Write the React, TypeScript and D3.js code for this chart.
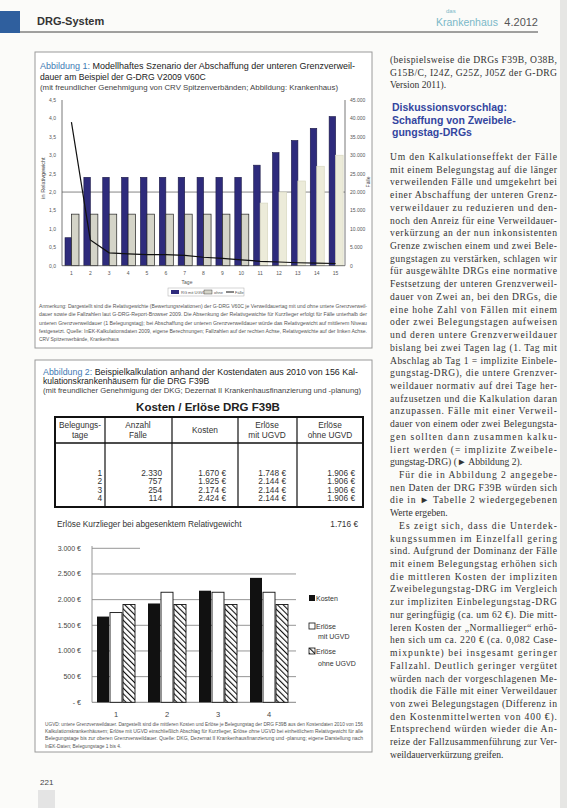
import React from "react";
import * as d3 from "d3";

// ---------- DATA ----------
const days = ["1","2","3","4","5","6","7","8","9","10","11","12","13","14","15"];
const rwMitUGVD = [0.76,2.4,2.4,2.4,2.4,2.4,2.4,2.4,2.4,2.4,2.73,3.07,3.4,3.73,4.05];
const rwOhneUGVD = [1.4,1.4,1.4,1.4,1.4,1.4,1.4,1.4,1.4,1.4,1.7,2.0,2.3,2.7,3.0];
const cases = [39000,7000,3500,3200,3000,3000,2800,2300,2000,1600,1200,1000,800,700,600];
const leftTicks = [0,0.5,1,1.5,2,2.5,3,3.5,4,4.5];
const rightTicks = [0,5000,10000,15000,20000,25000,30000,35000,40000,45000];

const tage = ["1","2","3","4"];
const faelle = ["2.330","757","254","114"];
const kosten = [1670,1925,2174,2424];
const erloeseMit = [1748,2144,2144,2144];
const erloeseOhne = [1906,1906,1906,1906];
const yTicks2 = [0,500,1000,1500,2000,2500,3000];

const colText = [
  {t:"Um den Kalkulationseffekt der Fälle", j:true},
  {t:"mit einem Belegungstag auf die länger", j:true},
  {t:"verweilenden Fälle und umgekehrt bei", j:true},
  {t:"einer Abschaffung der unteren Grenz-", j:true},
  {t:"verweildauer zu reduzieren und den-", j:true},
  {t:"noch den Anreiz für eine Verweildauer-", j:true},
  {t:"verkürzung an der nun inkonsistenten", j:true},
  {t:"Grenze zwischen einem und zwei Bele-", j:true},
  {t:"gungstagen zu verstärken, schlagen wir", j:true},
  {t:"für ausgewählte DRGs eine normative", j:true},
  {t:"Festsetzung der unteren Grenzverweil-", j:true},
  {t:"dauer von Zwei an, bei den DRGs, die", j:true},
  {t:"eine hohe Zahl von Fällen mit einem", j:true},
  {t:"oder zwei Belegungstagen aufweisen", j:true},
  {t:"und deren untere Grenzverweildauer", j:true},
  {t:"bislang bei zwei Tagen lag (1. Tag mit", j:true},
  {t:"Abschlag ab Tag 1 = implizite Einbele-", j:true},
  {t:"gungstag-DRG), die untere Grenzver-", j:true},
  {t:"weildauer normativ auf drei Tage her-", j:true},
  {t:"aufzusetzen und die Kalkulation daran", j:true},
  {t:"anzupassen. Fälle mit einer Verweil-", j:true},
  {t:"dauer von einem oder zwei Belegungsta-", j:true},
  {t:"gen sollten dann zusammen kalku-", j:true},
  {t:"liert werden (= implizite Zweibele-", j:true},
  {t:"gungstag-DRG) (► Abbildung 2).", j:false},
  {t:"Für die in Abbildung 2 angegebe-", j:true, i:true},
  {t:"nen Daten der DRG F39B würden sich", j:true},
  {t:"die in ► Tabelle 2 wiedergegebenen", j:true},
  {t:"Werte ergeben.", j:false},
  {t:"Es zeigt sich, dass die Unterdek-", j:true, i:true},
  {t:"kungssummen im Einzelfall gering", j:true},
  {t:"sind. Aufgrund der Dominanz der Fälle", j:true},
  {t:"mit einem Belegungstag erhöhen sich", j:true},
  {t:"die mittleren Kosten der impliziten", j:true},
  {t:"Zweibelegungstag-DRG im Vergleich", j:true},
  {t:"zur impliziten Einbelegungstag-DRG", j:true},
  {t:"nur geringfügig (ca. um 62 €). Die mitt-", j:true},
  {t:"leren Kosten der „Normallieger“ erhö-", j:true},
  {t:"hen sich um ca. 220 € (ca. 0,082 Case-", j:true},
  {t:"mixpunkte) bei insgesamt geringer", j:true},
  {t:"Fallzahl. Deutlich geringer vergütet", j:true},
  {t:"würden nach der vorgeschlagenen Me-", j:true},
  {t:"thodik die Fälle mit einer Verweildauer", j:true},
  {t:"von zwei Belegungstagen (Differenz in", j:true},
  {t:"den Kostenmittelwerten von 400 €).", j:true},
  {t:"Entsprechend würden wieder die An-", j:true},
  {t:"reize der Fallzusammenführung zur Ver-", j:true},
  {t:"weildauerverkürzung greifen.", j:false},
];
const topText = [
  "(beispielsweise die DRGs F39B, O38B,",
  "G15B/C, I24Z, G25Z, J05Z der G-DRG",
  "Version 2011).",
];
const note1 = [
  "Anmerkung: Dargestellt sind die Relativgewichte (Bewertungsrelationen) der G-DRG V60C je Verweildauertag mit und ohne untere Grenzverweil-",
  "dauer sowie die Fallzahlen laut G-DRG-Report-Browser 2009. Die Absenkung der Relativgewichte für Kurzlieger erfolgt für Fälle unterhalb der",
  "unteren Grenzverweildauer (1 Belegungstag); bei Abschaffung der unteren Grenzverweildauer würde das Relativgewicht auf mittlerem Niveau",
  "festgesetzt. Quelle: InEK-Kalkulationsdaten 2009, eigene Berechnungen; Fallzahlen auf der rechten Achse, Relativgewichte auf der linken Achse.",
  "CRV Spitzenverbände, Krankenhaus",
];
const note2 = [
  "UGVD: untere Grenzverweildauer. Dargestellt sind die mittleren Kosten und Erlöse je Belegungstag der DRG F39B aus den Kostendaten 2010 von 156",
  "Kalkulationskrankenhäusern; Erlöse mit UGVD einschließlich Abschlag für Kurzlieger, Erlöse ohne UGVD bei einheitlichem Relativgewicht für alle",
  "Belegungstage bis zur oberen Grenzverweildauer. Quelle: DKG, Dezernat II Krankenhausfinanzierung und -planung; eigene Darstellung nach",
  "InEK-Daten; Belegungstage 1 bis 4.",
];

// ---------- COMPONENT ----------
const SANS = "'Liberation Sans', Arial, sans-serif";
const SERIF = "'Liberation Serif', 'Times New Roman', serif";

export default function App() {
  // Chart 1 scales
  const x1 = d3.scaleBand().domain(days).range([62, 345]).paddingInner(0).paddingOuter(0);
  const yL = d3.scaleLinear().domain([0, 4.5]).range([265.7, 100]);
  const yR = d3.scaleLinear().domain([0, 45000]).range([265.7, 100]);
  const bw = 6.5;
  const line = d3.line<number>()
    .x((_, i) => (x1(days[i]) as number) + x1.bandwidth() / 2)
    .y((d) => yR(d));

  // Chart 2 scales
  const x2 = d3.scaleBand().domain(tage).range([90.5, 294.5]);
  const y2 = d3.scaleLinear().domain([0, 3000]).range([702.3, 548.3]);
  const bw2 = 12;
  const fmtEuro = (v: number) => (v === 0 ? "- €" : d3.format(",")(v).replace(/,/g, ".") + " €");
  const fmtNum = (v: number) => (v === 0 ? "0" : d3.format(",")(v).replace(/,/g, "."));
  const fmtDec = (v: number) => v.toFixed(1).replace(".", ",");

  const colX = 390, colW = 167, lh = 12.72, l0 = 160;

  return (
    <svg width={567} height={808} style={{ position: "absolute", left: 0, top: 0, background: "#fbfbf9" }}>
      <defs>
        <pattern id="hatch" patternUnits="userSpaceOnUse" width={4} height={4} patternTransform="rotate(-45)">
          <rect width={4} height={4} fill="#fff" />
          <line x1={0} y1={0} x2={0} y2={4} stroke="#111" strokeWidth={2.2} />
        </pattern>
      </defs>
      <rect x={0} y={0} width={567} height={808} fill="#fbfbf9" />
      <rect x={560} y={0} width={7} height={808} fill="#e6e6e4" />

      {/* Header */}
      <rect x={0} y={11} width={20} height={22} fill="#2f5f9e" />
      <text x={37} y={25} fontFamily={SANS} fontSize={11} fontWeight="bold" fill="#333">DRG-System</text>
      <line x1={20} y1={32} x2={538} y2={32} stroke="#444" strokeWidth={1} />
      <text x={446} y={13} fontFamily={SANS} fontSize={6} fill="#7ab8c8">das</text>
      <text x={436} y={26} fontFamily={SANS} fontSize={10.5} fill="#7ab8c8">Krankenhaus</text>
      <text x={538} y={26} fontFamily={SANS} fontSize={11} fill="#555" textAnchor="end">4.2012</text>

      {/* Box 1 */}
      <rect x={35} y={52} width={337} height={296} fill="#fff" stroke="#9a9a9a" strokeWidth={1} />
      <text x={40} y={69} fontFamily={SANS} fontSize={8.6} fill="#222" textLength={315} lengthAdjust="spacingAndGlyphs">
        <tspan fill="#3f7ab3">Abbildung 1:</tspan> Modellhaftes Szenario der Abschaffung der unteren Grenzverweil-
      </text>
      <text x={40} y={79.5} fontFamily={SANS} fontSize={8.6} fill="#222">dauer am Beispiel der G-DRG V2009 V60C</text>
      <text x={40} y={89.5} fontFamily={SANS} fontSize={6.4} fill="#444" textLength={298} lengthAdjust="spacingAndGlyphs">(mit freundlicher Genehmigung von CRV Spitzenverbänden; Abbildung: Krankenhaus)</text>

      {/* Chart 1 */}
      <g>
        <line x1={62} x2={345} y1={yL(2)} y2={yL(2)} stroke="#666" strokeWidth={0.8} />
        {days.map((d, i) => (
          <g key={d}>
            <rect x={(x1(d) as number) + 3} y={yL(rwMitUGVD[i])} width={bw} height={yL(0) - yL(rwMitUGVD[i])} fill="#2e2b7c" stroke="#1a1845" strokeWidth={0.6} />
            <rect x={(x1(d) as number) + 3 + bw} y={yL(rwOhneUGVD[i])} width={bw + 1} height={yL(0) - yL(rwOhneUGVD[i])}
              fill={i < 10 ? "#d4d4c8" : "#ecebd9"} stroke={i < 10 ? "#222" : "#d8d7c0"} strokeWidth={0.7} />
          </g>
        ))}
        <path d={line(cases) || ""} fill="none" stroke="#111" strokeWidth={1.2} />
        <line x1={62} x2={62} y1={100} y2={265.7} stroke="#555" strokeWidth={0.8} />
        <line x1={345} x2={345} y1={100} y2={265.7} stroke="#555" strokeWidth={0.8} />
        <line x1={62} x2={345} y1={265.7} y2={265.7} stroke="#555" strokeWidth={0.8} />
        {leftTicks.map((t) => (
          <text key={t} x={56} y={yL(t) + 2} fontFamily={SANS} fontSize={5} fill="#555" textAnchor="end">{fmtDec(t)}</text>
        ))}
        {rightTicks.map((t) => (
          <text key={t} x={350} y={yR(t) + 2} fontFamily={SANS} fontSize={5} fill="#555">{fmtNum(t)}</text>
        ))}
        {days.map((d) => (
          <text key={d} x={(x1(d) as number) + x1.bandwidth() / 2} y={275} fontFamily={SANS} fontSize={5} fill="#555" textAnchor="middle">{d}</text>
        ))}
        <text x={187} y={284} fontFamily={SANS} fontSize={5} fill="#555" textAnchor="middle">Tage</text>
        <text transform="translate(45,178) rotate(-90)" fontFamily={SANS} fontSize={5.5} fill="#444" textAnchor="middle">in Relativgewicht</text>
        <text transform="translate(370,182) rotate(-90)" fontFamily={SANS} fontSize={5} fill="#444" textAnchor="middle">Fälle</text>
        <rect x={168} y={288} width={76} height={8} fill="#fff" stroke="#aaa" strokeWidth={0.5} />
        <rect x={171} y={290} width={8} height={4} fill="#2e2b7c" />
        <text x={181} y={294} fontFamily={SANS} fontSize={4} fill="#555">RG mit UGVD</text>
        <rect x={204} y={290} width={8} height={4} fill="#d4d4c8" stroke="#222" strokeWidth={0.4} />
        <text x={214} y={294} fontFamily={SANS} fontSize={4} fill="#555">ohne</text>
        <line x1={226} x2={234} y1={292} y2={292} stroke="#111" strokeWidth={1} />
        <text x={235} y={294} fontFamily={SANS} fontSize={4} fill="#555">Fälle</text>
      </g>
      {note1.map((t, i) => (
        <text key={i} x={39} y={308 + i * 8.3} fontFamily={SANS} fontSize={4.9} fill="#555"
          textLength={i < 4 ? 328 : undefined} lengthAdjust="spacingAndGlyphs">{t}</text>
      ))}

      {/* Box 2 */}
      <rect x={35} y={360} width={337} height={392} fill="#fff" stroke="#9a9a9a" strokeWidth={1} />
      <text x={43} y={374.5} fontFamily={SANS} fontSize={8.6} fill="#222" textLength={315} lengthAdjust="spacingAndGlyphs">
        <tspan fill="#3f7ab3">Abbildung 2:</tspan> Beispielkalkulation anhand der Kostendaten aus 2010 von 156 Kal-
      </text>
      <text x={43} y={384} fontFamily={SANS} fontSize={8.6} fill="#222">kulationskrankenhäusern für die DRG F39B</text>
      <text x={43} y={393} fontFamily={SANS} fontSize={6.4} fill="#444" textLength={318} lengthAdjust="spacingAndGlyphs">(mit freundlicher Genehmigung der DKG; Dezernat II Krankenhausfinanzierung und -planung)</text>

      <text x={208} y={411} fontFamily={SANS} fontSize={11.5} fontWeight="bold" fill="#222" textAnchor="middle">Kosten / Erlöse DRG F39B</text>

      {/* Table */}
      <g fontFamily={SANS} fontSize={8.3} fill="#333">
        <rect x={55} y={417} width={308} height={90} fill="#fff" stroke="#111" strokeWidth={2} />
        <line x1={55} x2={363} y1={443} y2={443} stroke="#111" strokeWidth={1.5} />
        {[105, 172, 238, 297].map((x) => (
          <line key={x} x1={x} x2={x} y1={417} y2={507} stroke="#111" strokeWidth={1.2} />
        ))}
        <text x={80} y={428} textAnchor="middle">Belegungs-</text>
        <text x={80} y={438} textAnchor="middle">tage</text>
        <text x={138} y={428} textAnchor="middle">Anzahl</text>
        <text x={138} y={438} textAnchor="middle">Fälle</text>
        <text x={205} y={433} textAnchor="middle">Kosten</text>
        <text x={267} y={428} textAnchor="middle">Erlöse</text>
        <text x={267} y={438} textAnchor="middle">mit UGVD</text>
        <text x={330} y={428} textAnchor="middle">Erlöse</text>
        <text x={330} y={438} textAnchor="middle">ohne UGVD</text>
        {tage.map((t, i) => {
          const yy = 476 + i * 8.4;
          return (
            <g key={t}>
              <text x={102} y={yy} textAnchor="end">{t}</text>
              <text x={162} y={yy} textAnchor="end">{faelle[i]}</text>
              <text x={226} y={yy} textAnchor="end">{fmtEuro(kosten[i])}</text>
              <text x={286} y={yy} textAnchor="end">{fmtEuro(erloeseMit[i])}</text>
              <text x={355} y={yy} textAnchor="end">{fmtEuro(erloeseOhne[i])}</text>
            </g>
          );
        })}
      </g>

      <text x={57} y={527} fontFamily={SANS} fontSize={8.3} fill="#333">Erlöse Kurzlieger bei abgesenktem Relativgewicht</text>
      <text x={358} y={527} fontFamily={SANS} fontSize={8.3} fill="#333" textAnchor="end">1.716 €</text>

      {/* Chart 2 */}
      <g>
        {yTicks2.map((t) => (
          <g key={t}>
            {t > 0 && <line x1={92} x2={t === 3000 ? 140 : 296} y1={y2(t)} y2={y2(t)} stroke="#8a8a8a" strokeWidth={0.9} />}
            <text x={81} y={y2(t) + 2.5} fontFamily={SANS} fontSize={7} fill="#444" textAnchor="end">{fmtEuro(t)}</text>
          </g>
        ))}
        <line x1={92} x2={92} y1={546} y2={y2(0)} stroke="#8a8a8a" strokeWidth={0.9} />
        <line x1={92} x2={296} y1={y2(0)} y2={y2(0)} stroke="#777" strokeWidth={0.9} />
        {tage.map((t, i) => {
          const cx = (x2(t) as number) + x2.bandwidth() / 2;
          return (
            <g key={t}>
              <rect x={cx - 1.5 * bw2 - 1} y={y2(kosten[i])} width={bw2} height={y2(0) - y2(kosten[i])} fill="#111" />
              <rect x={cx - 0.5 * bw2} y={y2(erloeseMit[i])} width={bw2} height={y2(0) - y2(erloeseMit[i])} fill="#fff" stroke="#111" strokeWidth={0.9} />
              <rect x={cx + 0.5 * bw2 + 1} y={y2(erloeseOhne[i])} width={bw2} height={y2(0) - y2(erloeseOhne[i])} fill="url(#hatch)" stroke="#111" strokeWidth={0.9} />
              <text x={cx} y={717} fontFamily={SANS} fontSize={7.5} fill="#444" textAnchor="middle">{t}</text>
            </g>
          );
        })}
        <rect x={309} y={595} width={6} height={6} fill="#111" />
        <text x={316} y={601} fontFamily={SANS} fontSize={7} fill="#333">Kosten</text>
        <rect x={309} y={623} width={6} height={6} fill="#fff" stroke="#111" strokeWidth={0.8} />
        <text x={316} y={629} fontFamily={SANS} fontSize={7} fill="#333">Erlöse</text>
        <text x={318} y={639} fontFamily={SANS} fontSize={7} fill="#333">mit UGVD</text>
        <rect x={309} y={648} width={6} height={6} fill="url(#hatch)" stroke="#111" strokeWidth={0.8} />
        <text x={316} y={654} fontFamily={SANS} fontSize={7} fill="#333">Erlöse</text>
        <text x={318} y={666} fontFamily={SANS} fontSize={7} fill="#333">ohne UGVD</text>
      </g>
      {note2.map((t, i) => (
        <text key={i} x={45} y={726 + i * 7.2} fontFamily={SANS} fontSize={4.8} fill="#555"
          textLength={i < 3 ? 318 : undefined} lengthAdjust="spacingAndGlyphs">{t}</text>
      ))}

      {/* Page number */}
      <text x={40} y={785} fontFamily={SANS} fontSize={8} fill="#444">221</text>
      <rect x={38} y={790} width={17} height={18} fill="#e4e4e4" />

      {/* Right column */}
      {topText.map((t, i) => (
        <text key={i} x={colX} y={63 + i * lh} fontFamily={SERIF} fontSize={9.6} fill="#333"
          textLength={i < 2 ? colW : undefined} lengthAdjust="spacing">{t}</text>
      ))}
      <g fontFamily={SANS} fontSize={10.5} fontWeight="bold" fill="#3346a0">
        <text x={colX + 2} y={111}>Diskussionsvorschlag:</text>
        <text x={colX + 2} y={123.5}>Schaffung von Zweibele-</text>
        <text x={colX + 2} y={136}>gungstag-DRGs</text>
      </g>
      {colText.map((l, i) => (
        <text key={i} x={colX + (l.i ? 9 : 0)} y={l0 + i * lh} fontFamily={SERIF} fontSize={9.6} fill="#333"
          textLength={l.j ? colW - (l.i ? 9 : 0) : undefined} lengthAdjust="spacing">{l.t}</text>
      ))}
    </svg>
  );
}
